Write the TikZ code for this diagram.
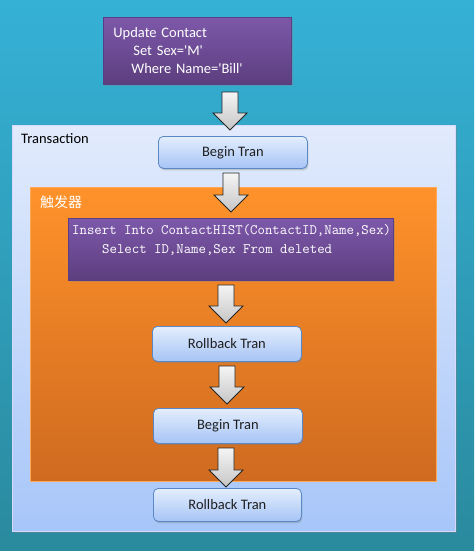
\documentclass[tikz,border=0pt]{standalone}
\usepackage{fontspec}
\setmainfont{Carlito}
\newfontfamily\cjk{Noto Sans CJK SC}
\usetikzlibrary{shadows,calc}
\definecolor{bgtop}{HTML}{35B1D6}
\definecolor{bgbot}{HTML}{2A8A9E}
\definecolor{trtop}{HTML}{E2EBFC}
\definecolor{trbot}{HTML}{A7C6F9}
\definecolor{ortop}{HTML}{FF922A}
\definecolor{orbot}{HTML}{CF6A20}
\definecolor{putop}{HTML}{7D58AA}
\definecolor{pubot}{HTML}{5C3E7E}
\definecolor{puedge}{HTML}{5A3E85}
\definecolor{btntop}{HTML}{E4EEFD}
\definecolor{btnbot}{HTML}{A6C4F6}
\definecolor{btnedge}{HTML}{5A88C4}
\tikzset{
  purplebox/.style={draw=puedge, line width=0.8pt, top color=putop, bottom color=pubot,
    drop shadow={opacity=0.35, shadow xshift=1.5pt, shadow yshift=-2pt}},
  btnbox/.style={draw=btnedge, line width=0.8pt, rounded corners=5pt, top color=btntop, bottom color=btnbot,
    text=black!88, font=\fontsize{14.5}{17}\selectfont,
    drop shadow={opacity=0.35, shadow xshift=1pt, shadow yshift=-2pt}},
  transbox/.style={draw=white!85!blue, line width=0.6pt, top color=trtop, bottom color=trbot,
    drop shadow={opacity=0.4, shadow xshift=2pt, shadow yshift=-2pt}},
  orbox/.style={draw=ortop!80!white, line width=0.6pt, top color=ortop, bottom color=orbot},
  arrowshape/.style={draw=black!85, line width=0.8pt, top color=gray!8, bottom color=gray!45, line join=miter},
}
\newcommand\barrow[2]{%
  \path let \p1=(#1), \p2=(#2) in
    [arrowshape] (\x1-8pt,\y1) -- (\x1+8pt,\y1) -- (\x1+8pt,\y2+17pt) -- (\x1+17pt,\y2+17pt)
    -- (\x2,\y2) -- (\x1-17pt,\y2+17pt) -- (\x1-8pt,\y2+17pt) -- cycle;}
\begin{document}
\begin{tikzpicture}[x=1pt,y=-1pt]
\useasboundingbox (0,0) rectangle (474,551);
\fill[top color=bgtop, bottom color=bgbot] (0,0) rectangle (474,551);

% top update box
\node[purplebox, anchor=north west, minimum width=188pt, minimum height=67pt,
  text width=168pt, inner sep=0pt, align=left, text=white, font=\fontsize{14.5}{18}\selectfont]
  (upd) at (103,17) {Update Contact\\\hspace*{20pt}Set Sex=\textquotesingle M\textquotesingle\\\hspace*{18pt}Where Name=\textquotesingle Bill\textquotesingle};

% transaction box
\node[transbox, anchor=north west, minimum width=443pt, minimum height=406pt, inner sep=0pt] (trans) at (12,125) {};
\node[anchor=west, inner sep=0pt, font=\fontsize{14.5}{17}\selectfont, text=black] (translbl) at (21,139) {Transaction};

\node[btnbox, anchor=north west, minimum width=149pt, minimum height=32pt, inner sep=0pt] (b1) at (158,136) {Begin Tran};

% trigger box
\node[orbox, anchor=north west, minimum width=406pt, minimum height=294pt, inner sep=0pt] (trig) at (30,187) {};
\node[anchor=west, inner sep=0pt, text=white, font=\cjk\fontsize{14}{17}\selectfont] (triglbl) at (40,202) {触发器};

\node[purplebox, anchor=north west, minimum width=325pt, minimum height=62pt, inner sep=0pt] (ins) at (68,218) {};
\node[anchor=north west, inner sep=0pt, align=left, text=white, font=\ttfamily\fontsize{14.4}{19.5}\selectfont]
  (instxt) at (72,224) {Insert Into ContactHIST(ContactID,Name,Sex)\\\hspace*{30pt}Select ID,Name,Sex From deleted};

\node[btnbox, anchor=north west, minimum width=149pt, minimum height=35pt, inner sep=0pt] (r1) at (152,326) {Rollback Tran};
\node[btnbox, anchor=north west, minimum width=149pt, minimum height=35pt, inner sep=0pt] (b2) at (153,408) {Begin Tran};
\node[btnbox, anchor=north west, minimum width=148pt, minimum height=33pt, inner sep=0pt] (r2) at (153,488) {Rollback Tran};

% block arrows
\coordinate (a1s) at (230,92); \coordinate (a1e) at (230,130);
\coordinate (a2s) at (231,173); \coordinate (a2e) at (231,212);
\coordinate (a3s) at (226,285); \coordinate (a3e) at (226,323);
\coordinate (a4s) at (227,366); \coordinate (a4e) at (227,404);
\coordinate (a5s) at (226,448); \coordinate (a5e) at (226,487);
\barrow{a1s}{a1e}
\barrow{a2s}{a2e}
\barrow{a3s}{a3e}
\barrow{a4s}{a4e}
\barrow{a5s}{a5e}
\end{tikzpicture}
\end{document}
